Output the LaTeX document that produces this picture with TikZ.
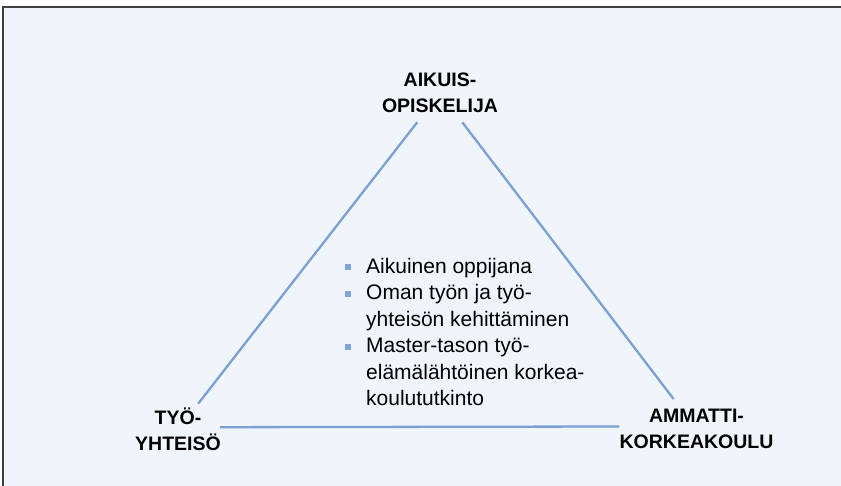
\documentclass[tikz,border=0pt]{standalone}
\usepackage{fontspec}
\setmainfont{Liberation Sans}
\definecolor{bgcol}{HTML}{F0F4FB}
\definecolor{sidecol}{HTML}{7BA0D4}
\definecolor{bulcol}{HTML}{7FA6DA}
\definecolor{framecol}{HTML}{404040}
\newcommand{\blt}{\makebox[21.7pt][l]{\textcolor{bulcol}{\rule[3pt]{6pt}{6pt}}}}
\newcommand{\bind}{\hspace*{21.7pt}}

\begin{document}
\begin{tikzpicture}[x=1pt,y=-1pt,
  corner/.style={font={\fontsize{19.5}{26}\selectfont\bfseries}, align=center, inner sep=2pt},
  side/.style={draw=sidecol, line width=2.3pt}]
  \useasboundingbox (0,0) rectangle (841,486);
  \fill[white] (0,0) rectangle (841,486);
  \fill[bgcol] (3,7) rectangle (841,486);
  \draw[framecol, line width=2pt] (3,486) -- (3,7) -- (841,7);
  % corners of the triangle
  \node[corner] (ao) at (440,93) {AIKUIS-\\OPISKELIJA};
  \node[corner] (ty) at (178,429.7) {TYÖ-\\YHTEISÖ};
  \node[corner] (ak) at (696.5,429) {AMMATTI-\\KORKEAKOULU};
  \path[side]
  (ao) edge[shorten <=9pt, shorten >=3pt] (ty)
  edge[shorten <=9pt, shorten >=10pt] (ak);
  \draw[side, shorten <=-3pt, shorten >=-2pt] ([yshift=2.5pt]ty.east) -- ([yshift=2.5pt]ak.west);
  % list in the middle
  \node[anchor=base west, align=left, inner sep=0pt, font={\fontsize{21}{26.5}\selectfont}] (lst) at (344.3,405.8)
  {\blt Aikuinen oppijana\\
   \blt Oman työn ja työ-\\
   \bind yhteisön kehittäminen\\
   \blt Master-tason työ-\\
   \bind elämälähtöinen korkea-\\
   \bind koulututkinto};
\end{tikzpicture}
\end{document}
